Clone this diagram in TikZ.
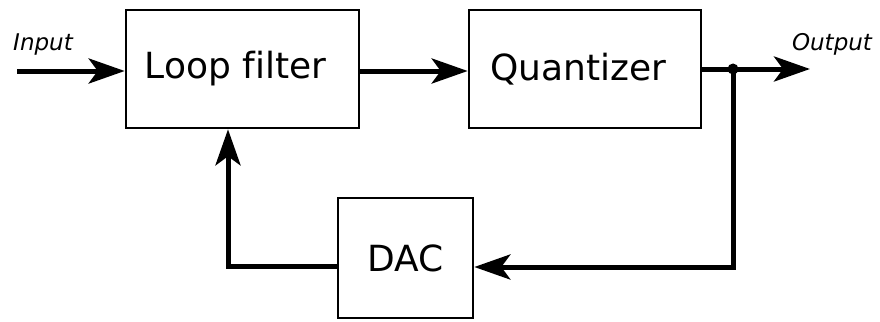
\documentclass[tikz,border=0pt]{standalone}
\usepackage{fontspec}
\setmainfont[Ligatures=NoCommon]{DejaVu Sans}
\usetikzlibrary{arrows.meta,calc}
\begin{document}
\begin{tikzpicture}[x=1pt,y=-1pt,
  blockbox/.style={draw, line width=2.6pt, inner sep=0pt, font=\fontsize{36}{40}\selectfont},
  sig/.style={line width=5pt, -{Stealth[length=36pt,width=25pt,inset=9pt]}},
  lbl/.style={font=\fontsize{23}{26}\itshape\selectfont, inner sep=0pt}]
\useasboundingbox (0,0) rectangle (880,321);
\node[blockbox, minimum width=233pt, minimum height=118pt] (lf) at (242.5,69) {Loop filter\hspace*{14pt}};
\node[blockbox, minimum width=232pt, minimum height=118pt] (q) at (585,69) {Quantizer\hspace*{14pt}};
\node[blockbox, minimum width=135pt, minimum height=120pt] (dac) at (405.5,258) {DAC};
\node[lbl] (inl) at (43,45) {Input};
\node[lbl] (outl) at (832,44) {Output};
\coordinate (in) at (17,71);
\coordinate (out) at (810,69);
\coordinate (j) at (733,69);
\coordinate (jb) at (733,267);
\coordinate (fl) at (228,266);
\draw[sig] (in) -- (in -| lf.west);
\draw[sig] (lf.east |- 0,71) -- (q.west |- 0,71);
\draw[sig] (q.east |- j) -- (out);
\draw[sig, line join=miter] (j) -- (jb) -- (dac.east |- jb);
\draw[sig, line join=miter] (dac.west |- fl) -- (fl) -- (fl |- lf.south);
\fill (j) circle (5.5pt);
\end{tikzpicture}
\end{document}
